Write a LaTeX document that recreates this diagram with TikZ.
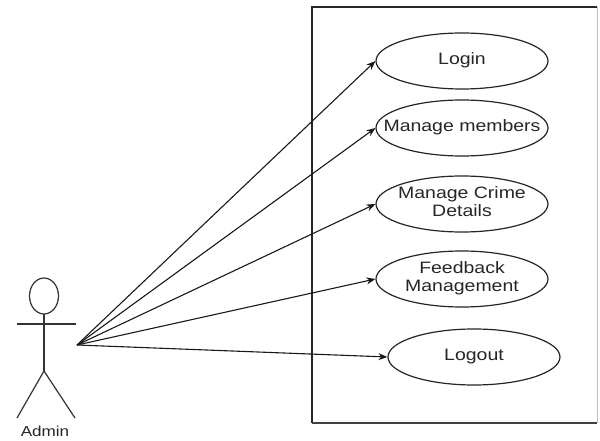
\documentclass[tikz,border=0pt]{standalone}
\usepackage{fontspec}
\setmainfont[FakeStretch=1.18]{Liberation Sans}
\usetikzlibrary{shapes.geometric,arrows.meta}
\newcommand\uctext[1]{\makebox[0pt][c]{\begin{tabular}{@{}c@{}}#1\end{tabular}}}
\begin{document}
\begin{tikzpicture}[x=1pt,y=-1pt,
  usecase/.style={draw=black!85,line width=1.2pt,ellipse,minimum width=172pt,minimum height=56pt,inner sep=0pt,
    font=\fontsize{16.5}{18}\selectfont,text=black!85},
  assoc/.style={draw=black!90,line width=1.1pt,-{Stealth[length=9pt,width=7pt]}},
  stick/.style={draw=black!80,line width=1.2pt}]
\useasboundingbox (0,0) rectangle (600,441);
\fill[white] (0,0) rectangle (600,441);
% system boundary
\draw[black!85,line width=1.4pt] (312,423) -- (312,7) -- (597,7);
\draw[black!25,line width=0.8pt] (597,7) -- (597,423);
\draw[black!75,line width=1.4pt] (312,423) -- (597,423);
% use cases
\node[usecase] (login) at (462,61) {\uctext{Login}};
\node[usecase] (members) at (462,128) {\uctext{Manage members}};
\node[usecase] (crime) at (462,204) {\uctext{Manage Crime\\Details}};
\node[usecase] (feedback) at (462,279) {\uctext{Feedback\\Management}};
\node[usecase] (logout) at (474,357) {\uctext{Logout}};
% actor
\draw[stick] (44,296) ellipse (14.5pt and 18pt);
\draw[stick] (44,314) -- (44,371);
\draw[stick] (17,324) -- (76,324);
\draw[stick] (44,371) -- (17,418);
\draw[stick] (44,371) -- (75,418);
\node[font=\fontsize{14.5}{16}\selectfont,text=black!85,inner sep=0pt] (admin) at (45,431) {Admin};
\coordinate (hand) at (77,345);
% associations
\draw[assoc] (hand) -- (login.west);
\draw[assoc] (hand) -- (members.west);
\draw[assoc] (hand) -- (crime.west);
\draw[assoc] (hand) -- (feedback.west);
\draw[assoc] (hand) -- (logout.west);
\end{tikzpicture}
\end{document}
